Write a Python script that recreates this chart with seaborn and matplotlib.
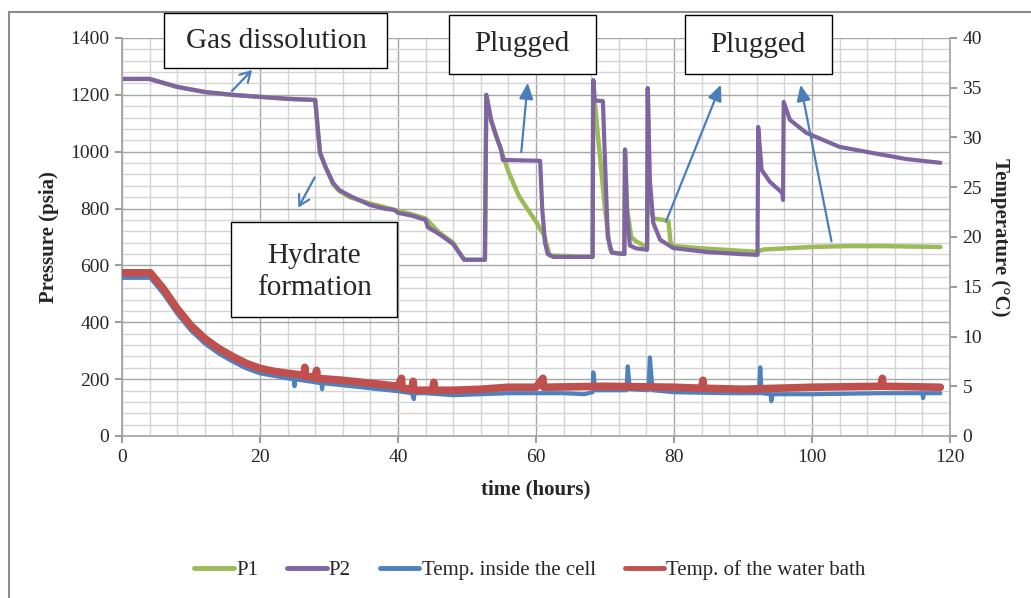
import pandas as pd
import matplotlib.pyplot as plt
import seaborn as sns
from matplotlib.patches import Rectangle
from matplotlib.lines import Line2D
from matplotlib.ticker import MultipleLocator

# pressure P2 (psia)
p2_time = [0, 4, 8, 12, 16, 20, 24, 28,
           28.3, 28.7, 29.5, 30.6, 31.5, 33, 35.9, 38, 39.5, 40, 42, 44, 44.3, 46, 48, 48.6, 49.4, 49.6, 52.6,
           52.8, 53.5, 54.3, 54.8, 55.0, 55.2, 60.6, 60.9, 61.3, 61.7, 62.5, 68.2,
           68.3, 68.5, 69.7, 69.9, 70.4, 71.0, 72.8,
           72.9, 73.2, 73.6, 74.5, 76.1,
           76.2, 76.5, 77.0, 78.0, 79.9, 84.8, 89.6, 92.1,
           92.2, 92.7, 93.9, 95.7, 95.8,
           95.9, 96.8, 99.2, 104, 108.9, 113.7, 118.6]
p2 = [1256, 1256, 1228, 1210, 1200, 1193, 1186, 1182,
      1100, 996, 946, 890, 865, 845, 813, 800, 795, 785, 775, 760, 735, 710, 675, 654, 626, 620, 620,
      1200, 1110, 1050, 1017, 1000, 971, 968, 800, 680, 640, 630, 630,
      1252, 1180, 1178, 1034, 700, 645, 640,
      1008, 780, 670, 660, 655,
      1224, 900, 749, 690, 661, 647, 640, 637,
      1087, 936, 894, 855, 830,
      1175, 1112, 1066, 1017, 995, 974, 961]

# pressure P1 (psia)
p1_time = [0, 4, 8, 12, 16, 20, 24, 28,
           28.3, 28.7, 29.5, 30.6, 31.5, 33, 35.9, 38, 40, 42, 44, 46, 48, 48.6, 49.4, 49.6, 52.6,
           52.8, 53.5, 54.3, 54.8, 56, 57.5, 59, 60.1, 61.2, 61.7, 62.0, 68.2,
           68.3, 68.5, 69.2, 70.0, 70.7, 71.0, 72.8,
           72.9, 73.2, 73.8, 74.5, 75.5, 76.1,
           76.2, 76.4, 76.7, 77.0, 78.5, 79.2, 79.5, 80, 84, 92, 93, 100, 105, 110, 118.6]
p1 = [1256, 1256, 1228, 1210, 1200, 1193, 1186, 1182,
      1100, 996, 946, 885, 862, 840, 818, 805, 792, 780, 765, 715, 680, 656, 628, 620, 620,
      1200, 1110, 1050, 1017, 930, 845, 790, 750, 705, 660, 635, 630,
      1250, 1180, 1000, 800, 660, 645, 640,
      1005, 800, 700, 685, 672, 668,
      1220, 900, 790, 765, 760, 755, 680, 668, 660, 648, 656, 665, 668, 668, 665]

# temperature inside the cell (deg C)
cell_time = [0, 4.1, 6, 8, 10, 12, 14, 16, 18, 20, 24, 24.9, 25, 25.1, 28, 28.9, 29, 29.1, 32, 36,
             40, 42, 42.3, 42.4, 44, 48, 52, 56, 60, 64, 67, 68.2, 68.3, 68.6, 70, 73.1, 73.3, 73.6,
             76.3, 76.5, 76.9, 80, 88, 92.3, 92.5, 92.7, 94, 94.1, 94.3, 100, 110, 116, 116.1, 116.2, 118.6]
cell_temp = [15.9, 15.9, 14.3, 12.3, 10.6, 9.3, 8.3, 7.5, 6.8, 6.3, 5.8, 5.7, 5.0, 5.7, 5.4, 5.3, 4.7, 5.3, 5.1, 4.8,
             4.5, 4.3, 3.7, 4.3, 4.3, 4.1, 4.2, 4.3, 4.3, 4.3, 4.2, 4.4, 6.4, 4.6, 4.6, 4.6, 7.0, 4.7,
             4.6, 7.9, 4.6, 4.4, 4.3, 4.3, 6.9, 4.3, 4.2, 3.5, 4.2, 4.2, 4.3, 4.3, 3.8, 4.3, 4.3]

# temperature of the water bath (deg C)
bath_time = [0, 4.1, 6, 8, 10, 12, 14, 16, 18, 20, 22, 24, 26.4, 26.5, 26.6, 28, 28.2, 28.3, 32, 36,
             40, 40.5, 40.6, 42, 42.2, 42.3, 45, 45.2, 45.3, 48, 52, 56, 60, 61, 61.1, 70, 80,
             84, 84.2, 84.3, 90, 95, 100, 110, 110.2, 110.3, 118.6]
bath_temp = [16.4, 16.4, 14.8, 12.8, 11.1, 9.8, 8.8, 8.0, 7.3, 6.8, 6.5, 6.3, 6.1, 6.9, 6.0, 5.9, 6.6, 5.8, 5.6, 5.3,
             5.0, 5.8, 4.8, 4.7, 5.5, 4.6, 4.6, 5.4, 4.6, 4.6, 4.7, 4.9, 4.9, 5.8, 4.9, 5.0, 4.9,
             4.8, 5.6, 4.8, 4.7, 4.8, 4.9, 5.0, 5.8, 5.0, 4.9]

series_names = ["P1", "P2", "Temp. inside the cell", "Temp. of the water bath"]
series_colors = ["#9BBB59", "#8064A2", "#4F81BD", "#C0504D"]

sns.set_theme(style="white")
plt.rcParams['font.family'] = ['Liberation Serif', 'DejaVu Serif']

W, H = 1031, 598
fig = plt.figure(figsize=(W / 100, H / 100), dpi=100)
ax = fig.add_axes([122 / W, 1 - 436 / H, (950 - 122) / W, (436 - 38) / H])
ax2 = ax.twinx()

p1_df = pd.DataFrame({"time": p1_time, "value": p1})
p2_df = pd.DataFrame({"time": p2_time, "value": p2})
cell_df = pd.DataFrame({"time": cell_time, "value": cell_temp})
bath_df = pd.DataFrame({"time": bath_time, "value": bath_temp})

sns.lineplot(data=p1_df, x="time", y="value", ax=ax, color=series_colors[0], lw=3.2, sort=False)
sns.lineplot(data=p2_df, x="time", y="value", ax=ax, color=series_colors[1], lw=3.0, sort=False)
sns.lineplot(data=cell_df, x="time", y="value", ax=ax2, color=series_colors[2], lw=3.0, sort=False)
sns.lineplot(data=bath_df, x="time", y="value", ax=ax2, color=series_colors[3], lw=5.5, sort=False)

# axes ranges and grid
ax.set_xlim(0, 120)
ax.set_ylim(0, 1400)
ax2.set_ylim(0, 40)
ax.xaxis.set_major_locator(MultipleLocator(20))
ax.xaxis.set_minor_locator(MultipleLocator(4))
ax.yaxis.set_major_locator(MultipleLocator(200))
ax.yaxis.set_minor_locator(MultipleLocator(40))
ax2.yaxis.set_major_locator(MultipleLocator(5))
ax.grid(which="major", color="#A6A6A6", lw=1.0)
ax.grid(which="minor", color="#D4D4D4", lw=1.0)
ax.set_axisbelow(True)

for a in (ax, ax2):
    for side in ("top", "left", "right", "bottom"):
        a.spines[side].set_visible(False)
ax.spines["left"].set_visible(True)
ax.spines["bottom"].set_visible(True)
ax2.spines["right"].set_visible(True)
ax.spines["left"].set_color("#A6A6A6")
ax.spines["bottom"].set_color("#A6A6A6")
ax2.spines["right"].set_color("#A6A6A6")

ax.tick_params(which="major", length=5, color="#8C8C8C", labelsize=14, pad=4, left=True, bottom=True)
ax.tick_params(which="minor", length=0)
ax2.tick_params(which="major", length=5, color="#8C8C8C", labelsize=14, pad=4, right=True)

ax.set_xlabel("time (hours)", fontsize=15, fontweight="bold", labelpad=10)
ax.set_ylabel("Pressure (psia)", fontsize=15, fontweight="bold", labelpad=8)
ax2.set_ylabel("Temperature (\u00b0C)", fontsize=15, fontweight="bold", rotation=270, labelpad=20)

# legend below
handles = [Line2D([0], [0], color=c, lw=3.5) for c in series_colors]
fig.legend(handles, series_names, loc="center", bbox_to_anchor=(530 / W, 1 - 570 / H), ncol=4,
           frameon=False, fontsize=15, handlelength=1.9, handletextpad=0.1, columnspacing=1.4)

# outer frame (only left and top edges visible in the crop)
fig.add_artist(Line2D([9 / W, 9 / W], [0, 1 - 12 / H], color="#8C8C8C", lw=1.5))
fig.add_artist(Line2D([9 / W, 1], [1 - 12 / H, 1 - 12 / H], color="#8C8C8C", lw=1.5))


def fp(x, y):
    return (x, H - y)


# arrows
arrow_color = "#4A7EBB"
open_arrows = [((230, 93), (254, 68)), ((316, 175), (297, 210))]
for tail, head in open_arrows:
    ax2.annotate("", xy=fp(*head), xytext=fp(*tail), xycoords="figure pixels", textcoords="figure pixels",
                 annotation_clip=False,
                 arrowprops=dict(arrowstyle="->,head_length=0.6,head_width=0.35", color=arrow_color, lw=1.6))
filled_arrows = [((521, 155), (528, 80)), ((665, 224), (722, 82)), ((832, 244), (800, 82))]
for tail, head in filled_arrows:
    ax2.annotate("", xy=fp(*head), xytext=fp(*tail), xycoords="figure pixels", textcoords="figure pixels",
                 annotation_clip=False,
                 arrowprops=dict(arrowstyle="-|>,head_length=0.8,head_width=0.35", color=arrow_color, lw=1.6))

# annotation boxes
boxes = [
    ((164, 13, 387, 68), "Gas dissolution", (276, 41)),
    ((449, 15, 596, 74), "Plugged", (522, 44)),
    ((685, 15, 832, 74), "Plugged", (758, 45)),
    ((231, 222, 397, 317), "Hydrate\nformation", (314, 272)),
]
for (x0, y0, x1, y1), label, (tx, ty) in boxes:
    fig.add_artist(Rectangle((x0 / W, 1 - y1 / H), (x1 - x0) / W, (y1 - y0) / H,
                             transform=fig.transFigure, facecolor="white", edgecolor="black", lw=1.0, zorder=5))
    fig.text(tx / W, 1 - ty / H, label, ha="center", va="center", fontsize=21, zorder=6, linespacing=1.3)

fig.savefig("out.png", dpi=100)
